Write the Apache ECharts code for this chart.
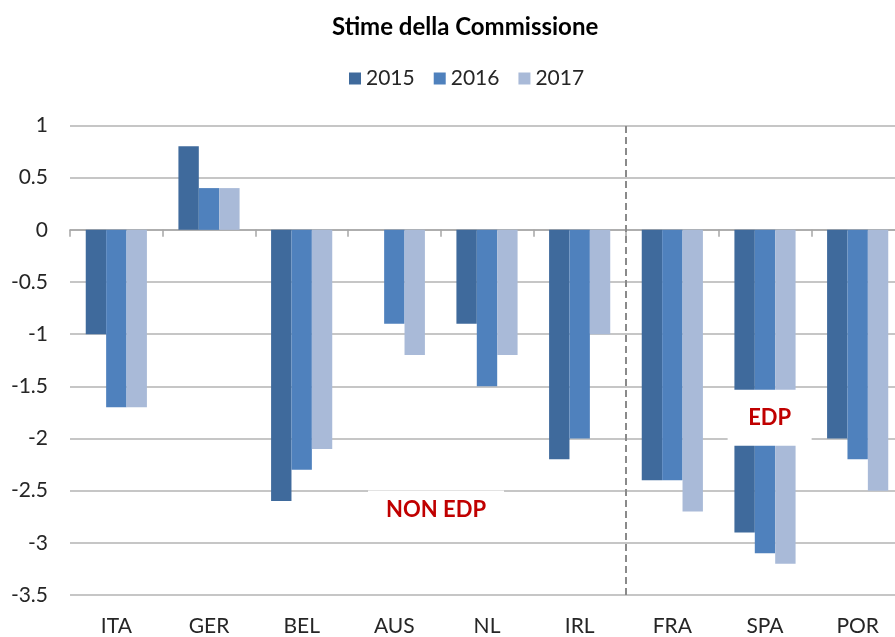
<!DOCTYPE html>
<html><head><meta charset="utf-8">
<script src="https://cdn.jsdelivr.net/npm/echarts@6/dist/echarts.min.js"></script>
<style>html,body{margin:0;padding:0;background:#fff;overflow:hidden}#c{width:912px;height:637px}</style>
</head><body><div id="c"></div>
<script>
var categories = ['ITA','GER','BEL','AUS','NL','IRL','FRA','SPA','POR'];
var seriesNames = ['2015','2016','2017'];
var v2015 = [-1.0, 0.8, -2.6, 0, -0.9, -2.2, -2.4, -2.9, -2.0];
var v2016 = [-1.7, 0.4, -2.3, -0.9, -1.5, -2.0, -2.4, -3.1, -2.2];
var v2017 = [-1.7, 0.4, -2.1, -1.2, -1.2, -1.0, -2.7, -3.2, -2.5];
var yTicks = [-3.5, -3, -2.5, -2, -1.5, -1, -0.5, 0, 0.5, 1];
var dividerAt = 6; // boundary between IRL and FRA (category index)
var annotations = [
  {name:'NON EDP', x:3.95, y:-2.68, w:136, h:38},
  {name:'EDP', x:7.55, y:-1.80, w:84, h:56}
];
var colors = ['#3F6A9C','#4F81BD','#A9BAD8'];
var FONT = 'Lato';

var chart = echarts.init(document.getElementById('c'));
var values = [v2015, v2016, v2017];
var barSeries = seriesNames.map(function(n,i){
  return {name:n, type:'bar', xAxisIndex:0, yAxisIndex:0, data: values[i],
    barGap:'0%', barCategoryGap:'34%', itemStyle:{color:colors[i]}, z:2};
});
barSeries.push({
  name:'annot', type:'scatter', xAxisIndex:2, yAxisIndex:0, data:[], silent:true,
  markLine:{silent:true, symbol:['none','none'], label:{show:false},
    lineStyle:{color:'#8A8A8A', width:2, type:[7,4]},
    data:[{xAxis: dividerAt}], z:3},
  markPoint:{silent:true, z:10,
    data: annotations.map(function(a){return {name:a.name, coord:[a.x,a.y], symbol:'rect', symbolSize:[a.w,a.h]};}),
    itemStyle:{color:'#ffffff'},
    label:{show:true, position:'inside', formatter:'{b}', color:'#C00000', fontFamily:FONT, fontWeight:'bold', fontSize:22}
  }
});

chart.setOption({
  animation:false,
  backgroundColor:'#ffffff',
  title:{text:'Stime della Commissione', left:327, top:10,
    textStyle:{fontFamily:FONT, fontWeight:'bold', fontSize:24, color:'#000'}},
  legend:{data:seriesNames, left:344, top:63, itemWidth:12, itemHeight:12, itemGap:19, icon:'rect',
    textStyle:{fontFamily:FONT, fontSize:21, color:'#262626'}},
  grid:{left:70, right:8, top:125.5, bottom:40.5, containLabel:false},
  xAxis:[
    {type:'category', data:categories, position:'bottom',
      axisLine:{show:true, onZero:true, lineStyle:{color:'#A6A6A6', width:1.5}},
      axisTick:{show:true, alignWithLabel:false, length:7, lineStyle:{color:'#A6A6A6', width:1.5}},
      axisLabel:{show:false}, splitLine:{show:false}},
    {type:'category', data:categories, position:'bottom',
      axisLine:{show:false, onZero:false}, axisTick:{show:false}, splitLine:{show:false},
      axisLabel:{show:true, margin:21, fontFamily:FONT, fontSize:21, color:'#262626'}},
    {type:'value', min:0, max:9, show:false}
  ],
  yAxis:{type:'value', min:-3.5, max:1, interval:0.5,
    axisLine:{show:false}, axisTick:{show:false},
    splitLine:{lineStyle:{color:'#B3B3B3', width:1.5}},
    axisLabel:{margin:22, fontFamily:FONT, fontSize:21, color:'#262626',
      formatter:function(v){ var r=Math.round(v*10)/10; return yTicks.indexOf(r)>=0 ? String(r) : ''; }}},
  series: barSeries
});
</script></body></html>
